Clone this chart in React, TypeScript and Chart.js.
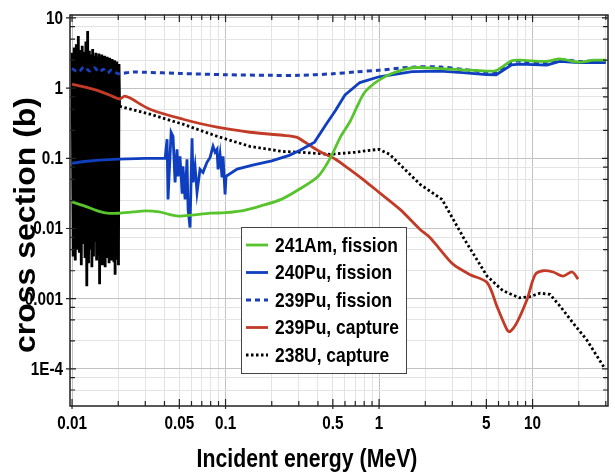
import { useEffect, useRef } from "react";
import { Chart, registerables } from "chart.js";
Chart.register(...registerables);

// ---------- data (energy in MeV, cross section in barns) ----------
const amE = [0.01, 0.012, 0.0145, 0.017, 0.02, 0.025, 0.03, 0.037, 0.045, 0.05, 0.06, 0.08, 0.1, 0.13, 0.17, 0.23, 0.3, 0.4, 0.48, 0.56, 0.65, 0.72, 0.8, 0.9, 1.0, 1.2, 1.64, 2.5, 3.5, 5, 5.8, 7.3, 8.3, 12.4, 15, 20, 25, 30];
const amXs = [0.024, 0.021, 0.018, 0.0165, 0.0165, 0.0172, 0.0178, 0.0172, 0.0155, 0.015, 0.0155, 0.0165, 0.0168, 0.018, 0.021, 0.026, 0.036, 0.055, 0.1, 0.2, 0.34, 0.55, 0.85, 1.1, 1.3, 1.6, 1.95, 1.9, 1.82, 1.75, 1.78, 2.45, 2.5, 2.4, 2.6, 2.35, 2.5, 2.5];

const pu240E = [0.01, 0.012, 0.015, 0.02, 0.03, 0.0404, 0.0416, 0.0422, 0.0442, 0.0455, 0.0469, 0.0483, 0.0491, 0.0505, 0.0521, 0.0528, 0.0545, 0.0561, 0.057, 0.0587, 0.0605, 0.0614, 0.0633, 0.0652, 0.0682, 0.0713, 0.0757, 0.0793, 0.0829, 0.0855, 0.088, 0.0894, 0.0921, 0.0949, 0.0963, 0.0993, 0.1007, 0.119, 0.15, 0.2, 0.26, 0.306, 0.38, 0.45, 0.52, 0.6, 0.75, 1.0, 1.64, 2.5, 3.5, 5, 5.8, 7.3, 8.3, 12.4, 15, 20, 25, 30];
const pu240Xs = [0.085, 0.09, 0.094, 0.097, 0.1, 0.1, 0.187, 0.026, 0.235, 0.206, 0.0454, 0.134, 0.0553, 0.107, 0.0327, 0.0769, 0.026, 0.0968, 0.0187, 0.0103, 0.193, 0.0454, 0.0769, 0.0327, 0.0696, 0.063, 0.0877, 0.103, 0.148, 0.122, 0.134, 0.0696, 0.114, 0.0535, 0.107, 0.0306, 0.0553, 0.07, 0.08, 0.092, 0.11, 0.13, 0.17, 0.3, 0.48, 0.8, 1.2, 1.45, 1.72, 1.75, 1.66, 1.56, 1.55, 2.15, 2.2, 2.12, 2.4, 2.3, 2.32, 2.3];

const pu239fE = [0.01, 0.011, 0.012, 0.013, 0.014, 0.015, 0.016, 0.017, 0.018, 0.019, 0.02, 0.025, 0.03, 0.05, 0.1, 0.2, 0.3, 0.5, 0.7, 1.0, 1.64, 2.5, 3.5, 5, 5.8, 7.3, 8.3, 12.4, 15, 20, 25, 30];
const pu239fXs = [1.9, 1.7, 2.0, 1.75, 1.95, 1.7, 1.85, 1.65, 1.8, 1.7, 1.6, 1.7, 1.68, 1.62, 1.55, 1.52, 1.52, 1.6, 1.7, 1.8, 1.99, 2.0, 1.85, 1.68, 1.66, 2.35, 2.42, 2.28, 2.55, 2.4, 2.43, 2.4];

const pu239cE = [0.01, 0.0122, 0.0152, 0.0177, 0.0205, 0.022, 0.0239, 0.0322, 0.0528, 0.088, 0.144, 0.236, 0.29, 0.33, 0.41, 0.52, 0.64, 0.8, 1.0, 1.37, 1.85, 2.15, 2.5, 3.03, 3.92, 5.05, 5.87, 6.82, 7.13, 7.92, 9.2, 10.4, 11.7, 13.6, 15.8, 18.1, 19.8];
const pu239cXs = [1.14, 1.03, 0.9, 0.79, 0.7, 0.77, 0.72, 0.5, 0.36, 0.277, 0.235, 0.213, 0.2, 0.169, 0.125, 0.097, 0.07, 0.0485, 0.0327, 0.0187, 0.0097, 0.0074, 0.005, 0.0031, 0.0022, 0.0017, 0.00077, 0.00036, 0.00034, 0.00046, 0.00097, 0.0022, 0.0025, 0.0024, 0.0021, 0.0024, 0.0019];

// 238U capture: resolved-resonance band (0.01-0.02 MeV) followed by smooth part
const u238E = [0.01, 0.01017, 0.01033, 0.0105, 0.01066, 0.01083, 0.01099, 0.01116, 0.01132, 0.01149, 0.01165, 0.01182, 0.01198, 0.01215, 0.01231, 0.01248, 0.01264, 0.01281, 0.01297, 0.01314, 0.0133, 0.01347, 0.01363, 0.0138, 0.01396, 0.01413, 0.01429, 0.01446, 0.01462, 0.01479, 0.01495, 0.01512, 0.01528, 0.01545, 0.01561, 0.01578, 0.01594, 0.01611, 0.01627, 0.01644, 0.0166, 0.01677, 0.01693, 0.0171, 0.01726, 0.01743, 0.01759, 0.01776, 0.01792, 0.01809, 0.01825, 0.01842, 0.01858, 0.01875, 0.01891, 0.01908, 0.01924, 0.01941, 0.01957, 0.01974, 0.0199, 0.02007, 0.02023, 0.0204,
  0.0322, 0.0528, 0.088, 0.144, 0.236, 0.306, 0.48, 0.7, 0.87, 1.0, 1.17, 1.47, 1.85, 2.57, 3.6, 5.05, 6.4, 8.2, 9.6, 11.2, 13.0, 15.2, 18.2, 22.5, 29.4];
const u238Xs = [3.2, 0.004, 3.8, 0.0035, 4.2, 0.005, 5.5, 0.0045, 3.5, 0.003, 4.0, 0.006, 3.3, 0.0038, 4.6, 0.0015, 6.5, 0.0032, 3.4, 0.005, 3.0, 0.0028, 3.6, 0.004, 2.9, 0.0065, 3.2, 0.0035, 2.8, 0.0042, 3.1, 0.0016, 2.7, 0.0045, 3.0, 0.003, 2.6, 0.005, 2.9, 0.0028, 2.5, 0.0038, 2.8, 0.006, 2.4, 0.0032, 2.7, 0.0045, 2.3, 0.0035, 2.6, 0.005, 2.2, 0.0033, 2.5, 0.0022, 2.1, 0.0042, 2.4, 0.0036, 2.0, 0.003, 2.2, 0.55,
  0.425, 0.306, 0.206, 0.148, 0.125, 0.122, 0.114, 0.122, 0.13, 0.134, 0.114, 0.0696, 0.0425, 0.026, 0.007, 0.0021, 0.0013, 0.00103, 0.00107, 0.0012, 0.00115, 0.00077, 0.00046, 0.00026, 0.000103];
const u238BandEnd = 0.0205;

const seriesLabels = ["241Am, fission", "240Pu, fission", "239Pu, fission", "239Pu, capture", "238U, capture"];

// ---------- axes ----------
const xMin = 0.0097;
const xMax = 31;
const yMin = 2.96e-5;
const yMax = 11;
const xDecades = [0.01, 0.1, 1, 10];
const xMinorMult = [1, 2, 3, 4, 5, 6, 7, 8, 9];
const xLabelValues = [0.01, 0.05, 0.1, 0.5, 1, 5, 10];
const xLabelTexts = ["0.01", "0.05", "0.1", "0.5", "1", "5", "10"];
const yDecades = [1e-5, 1e-4, 1e-3, 1e-2, 0.1, 1, 10];
const yMinorMult = [1, 2.5, 5, 7.5];
const yLabelValues = [10, 1, 0.1, 0.01, 0.001, 0.0001];
const yLabelTexts = ["10", "1", "0.1", "0.01", "0.001", "1E-4"];

const xTitle = "Incident energy (MeV)";
const yTitle = "cross section (b)";

const FONT = "'Liberation Sans', Arial, sans-serif";
const CONDENSE = 0.85;

function pts(xs: number[], ys: number[]) {
  return xs.map((x, i) => ({ x, y: ys[i] }));
}
function labelIndex(v: number, arr: number[]) {
  return arr.findIndex((a) => Math.abs(Math.log10(v) - Math.log10(a)) < 1e-6);
}
function isDecade(v: number) {
  const l = Math.log10(v);
  return Math.abs(l - Math.round(l)) < 1e-6;
}
function buildTicks(decades: number[], mults: number[], min: number, max: number) {
  const out: { value: number }[] = [];
  for (const d of decades) for (const m of mults) {
    const v = d * m;
    if (v >= min && v <= max) out.push({ value: v });
  }
  return out;
}
function drawText(ctx: CanvasRenderingContext2D, text: string, x: number, y: number, font: string, sx: number, align: CanvasTextAlign, baseline: CanvasTextBaseline) {
  ctx.save();
  ctx.translate(x, y);
  ctx.scale(sx, 1);
  ctx.font = font;
  ctx.textAlign = align;
  ctx.textBaseline = baseline;
  ctx.fillStyle = "#000";
  ctx.fillText(text, 0, 0);
  ctx.restore();
}

const framePlugin = {
  id: "frameAndLegend",
  afterDraw(chart: any) {
    const { ctx, chartArea: a, scales } = chart;
    const xs = scales.x;
    const ys = scales.y;
    ctx.save();
    // frame
    ctx.strokeStyle = "#222";
    ctx.lineWidth = 1.5;
    ctx.strokeRect(a.left, a.top, a.right - a.left, a.bottom - a.top);
    // inward ticks
    ctx.lineWidth = 1.2;
    ctx.beginPath();
    for (const t of xs.ticks) {
      const p = xs.getPixelForValue(t.value);
      if (p < a.left - 0.5 || p > a.right + 0.5) continue;
      const major = labelIndex(t.value, xLabelValues) >= 0;
      const len = major ? 7 : 5;
      ctx.moveTo(p, a.bottom + (major ? 3 : 0));
      ctx.lineTo(p, a.bottom - len);
      ctx.moveTo(p, a.top);
      ctx.lineTo(p, a.top + len);
    }
    for (const t of ys.ticks) {
      const p = ys.getPixelForValue(t.value);
      if (p < a.top - 0.5 || p > a.bottom + 0.5) continue;
      const major = labelIndex(t.value, yLabelValues) >= 0;
      const len = major ? 6 : 5;
      ctx.moveTo(a.left - (major ? 4 : 0), p);
      ctx.lineTo(a.left + len, p);
      ctx.moveTo(a.right, p);
      ctx.lineTo(a.right - len, p);
    }
    ctx.stroke();

    // tick labels
    const tickFont = `bold 18px ${FONT}`;
    xLabelValues.forEach((v, i) => {
      const p = xs.getPixelForValue(v);
      drawText(ctx, xLabelTexts[i], p, a.bottom + 18, tickFont, CONDENSE, "center", "middle");
    });
    yLabelValues.forEach((v, i) => {
      const p = ys.getPixelForValue(v);
      drawText(ctx, yLabelTexts[i], a.left - 7, p + 1, tickFont, CONDENSE, "right", "middle");
    });

    // axis titles
    drawText(ctx, xTitle, 307, 460, `bold 25px ${FONT}`, CONDENSE, "center", "middle");
    ctx.save();
    ctx.translate(35, 225);
    ctx.rotate(-Math.PI / 2);
    ctx.scale(1, 0.92);
    ctx.font = `bold 32px ${FONT}`;
    ctx.textAlign = "center";
    ctx.textBaseline = "alphabetic";
    ctx.fillStyle = "#000";
    ctx.fillText(yTitle, 0, 0);
    ctx.restore();

    // legend
    const bx = 241, by = 227, bw = 165, bh = 146;
    ctx.fillStyle = "#fff";
    ctx.fillRect(bx, by, bw, bh);
    ctx.strokeStyle = "#444";
    ctx.lineWidth = 1;
    ctx.strokeRect(bx + 0.5, by + 0.5, bw, bh);
    chart.data.datasets.forEach((ds: any, i: number) => {
      const yy = by + 18 + i * 27.5;
      ctx.save();
      ctx.strokeStyle = ds.borderColor;
      ctx.lineWidth = ds.borderWidth;
      ctx.setLineDash(ds.borderDash || []);
      ctx.beginPath();
      ctx.moveTo(bx + 5, yy);
      ctx.lineTo(bx + 27, yy);
      ctx.stroke();
      ctx.restore();
      drawText(ctx, ds.label, bx + 34, yy + 1, `bold 20.5px ${FONT}`, CONDENSE, "left", "middle");
    });
    ctx.restore();
  },
};

export default function App() {
  const ref = useRef<HTMLCanvasElement | null>(null);
  useEffect(() => {
    document.body.style.margin = "0";
    const canvas = ref.current;
    if (!canvas) return;
    const colors = ["#57c42e", "#0f3fbf", "#1b3db5", "#c23b27", "#000000"];
    const gridColor = (c: any) => (c.tick && isDecade(c.tick.value) ? "#c2c2c2" : "#e3e3e3");
    const chart = new Chart(canvas, {
      type: "line",
      data: {
        datasets: [
          { label: seriesLabels[0], data: pts(amE, amXs), borderColor: colors[0], borderWidth: 2.8, tension: 0.3 },
          { label: seriesLabels[1], data: pts(pu240E, pu240Xs), borderColor: colors[1], borderWidth: 2.8, tension: 0 },
          { label: seriesLabels[2], data: pts(pu239fE, pu239fXs), borderColor: colors[2], borderWidth: 3, borderDash: [5, 4], tension: 0.3 },
          { label: seriesLabels[3], data: pts(pu239cE, pu239cXs), borderColor: colors[3], borderWidth: 2.8, tension: 0.3 },
          {
            label: seriesLabels[4],
            data: pts(u238E, u238Xs),
            borderColor: colors[4],
            borderWidth: 2.8,
            borderDash: [2.5, 2.5],
            tension: 0,
            segment: { borderDash: (c: any) => (c.p1.parsed.x <= u238BandEnd ? [] : undefined) },
          },
        ] as any,
      },
      options: {
        animation: false,
        responsive: false,
        devicePixelRatio: 1,
        layout: { padding: { top: 15, right: 7, left: 0, bottom: 0 } },
        elements: { point: { radius: 0 }, line: { fill: false } },
        plugins: { legend: { display: false }, tooltip: { enabled: false }, title: { display: false } },
        scales: {
          x: {
            type: "logarithmic",
            min: xMin,
            max: xMax,
            afterBuildTicks: (s: any) => {
              s.ticks = buildTicks(xDecades, xMinorMult, xMin, xMax);
            },
            afterFit: (s: any) => {
              s.height = 67;
            },
            ticks: { display: false, autoSkip: false },
            grid: { drawTicks: false, color: gridColor, lineWidth: 1 },
            border: { display: false },
          },
          y: {
            type: "logarithmic",
            min: yMin,
            max: yMax,
            afterBuildTicks: (s: any) => {
              s.ticks = buildTicks(yDecades, yMinorMult, yMin, yMax);
            },
            afterFit: (s: any) => {
              s.width = 70;
            },
            ticks: { display: false, autoSkip: false },
            grid: { drawTicks: false, color: gridColor, lineWidth: 1 },
            border: { display: false },
          },
        },
      } as any,
      plugins: [framePlugin],
    });
    return () => chart.destroy();
  }, []);
  return (
    <div style={{ width: 615, height: 473, background: "#fff" }}>
      <canvas ref={ref} width={615} height={473} />
    </div>
  );
}
